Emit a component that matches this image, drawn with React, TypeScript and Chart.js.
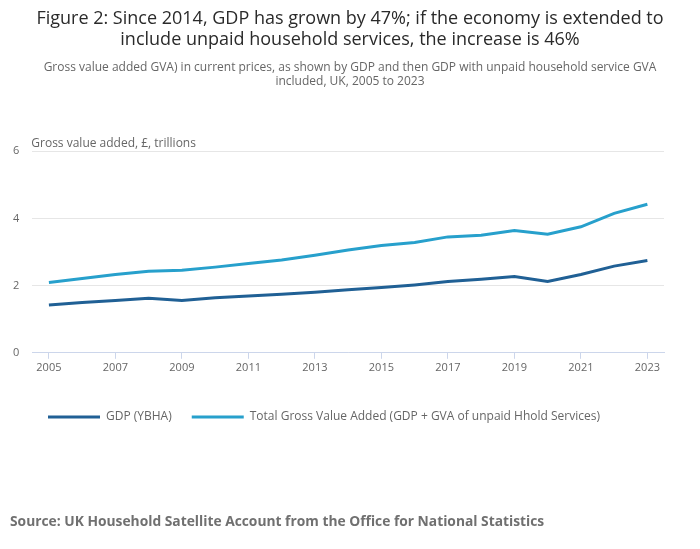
import { useEffect, useRef } from 'react';
import { Chart, registerables } from 'chart.js';

Chart.register(...registerables);

const YEARS = [
  '2005', '2006', '2007', '2008', '2009', '2010', '2011', '2012', '2013', '2014',
  '2015', '2016', '2017', '2018', '2019', '2020', '2021', '2022', '2023',
];
const GDP = [1.42, 1.5, 1.56, 1.62, 1.56, 1.64, 1.69, 1.74, 1.8, 1.88, 1.94, 2.02, 2.12, 2.19, 2.27, 2.12, 2.33, 2.58, 2.75];
const TOTAL_GVA = [2.09, 2.21, 2.33, 2.43, 2.46, 2.55, 2.66, 2.76, 2.9, 3.06, 3.19, 3.28, 3.45, 3.5, 3.64, 3.53, 3.75, 4.15, 4.42];
const Y_TICKS = [0, 2, 4, 6];

const TITLE = [
  'Figure 2: Since 2014, GDP has grown by 47%; if the economy is extended to',
  'include unpaid household services, the increase is 46%',
];
const SUBTITLE = [
  'Gross value added GVA) in current prices, as shown by GDP and then GDP with unpaid household service GVA',
  'included, UK, 2005 to 2023',
];
const Y_LABEL = 'Gross value added, £, trillions';
const SOURCE = 'Source: UK Household Satellite Account from the Office for National Statistics';

const FONT = "'Open Sans', sans-serif";

// extra text drawn straight on the canvas, plus a few position nudges
const extras = {
  id: 'extras',
  afterLayout(chart: any) {
    chart.boxes.forEach((b: any) => {
      if (b.position === 'top') {
        b.left = 0;
        b.right = chart.width;
      }
    });
    if (chart.legend) {
      chart.legend.left += 28;
      chart.legend.right += 28;
    }
  },
  afterDraw(chart: any) {
    const { ctx, chartArea } = chart;
    ctx.save();
    ctx.font = `12px ${FONT}`;
    ctx.fillStyle = '#666';
    ctx.textAlign = 'left';
    ctx.textBaseline = 'bottom';
    ctx.fillText(Y_LABEL, chartArea.left - 1, chartArea.top - 2);
    ctx.font = `bold 13.8px ${FONT}`;
    ctx.fillStyle = '#707070';
    ctx.textBaseline = 'middle';
    ctx.fillText(SOURCE, 10, 522);
    ctx.restore();
  },
};

export default function App() {
  const canvasRef = useRef<HTMLCanvasElement>(null);
  const chartRef = useRef<Chart | null>(null);

  useEffect(() => {
    if (!canvasRef.current) return;
    if (chartRef.current) chartRef.current.destroy();

    chartRef.current = new Chart(canvasRef.current, {
      type: 'line',
      data: {
        labels: YEARS,
        datasets: [
          {
            label: 'GDP (YBHA)',
            data: GDP,
            borderColor: '#206095',
            backgroundColor: '#206095',
            borderWidth: 3,
            pointRadius: 0,
            tension: 0,
          },
          {
            label: 'Total Gross Value Added (GDP + GVA of unpaid Hhold Services)',
            data: TOTAL_GVA,
            borderColor: '#27a0cc',
            backgroundColor: '#27a0cc',
            borderWidth: 3,
            pointRadius: 0,
            tension: 0,
          },
        ],
      },
      options: {
        responsive: true,
        maintainAspectRatio: false,
        animation: false,
        layout: { padding: { left: 0, right: 36, top: 4, bottom: 116 } },
        scales: {
          x: {
            type: 'category',
            offset: true,
            afterFit: (axis: any) => {
              axis.height += 15;
            },
            grid: {
              drawOnChartArea: false,
              drawTicks: true,
              tickLength: 6,
              color: '#ccd6eb',
            },
            border: { color: '#ccd6eb' },
            ticks: {
              autoSkip: false,
              maxRotation: 0,
              color: '#666',
              font: { family: FONT, size: 11 },
              padding: 2,
              callback: (_v: any, i: number) => (i % 2 === 0 ? YEARS[i] : null),
            },
          },
          y: {
            min: 0,
            max: 6,
            afterBuildTicks: (axis: any) => {
              axis.ticks = Y_TICKS.map((v) => ({ value: v }));
            },
            grid: { color: '#e6e6e6', drawTicks: false, tickLength: 0 },
            border: { display: false },
            ticks: {
              color: '#666',
              font: { family: FONT, size: 11 },
              padding: 13,
            },
          },
        },
        plugins: {
          title: {
            display: true,
            text: TITLE,
            color: '#2a2a2a',
            font: { family: FONT, size: 18, weight: 'normal', lineHeight: 1.15 },
            padding: { top: 5, bottom: 10 },
          },
          subtitle: {
            display: true,
            text: SUBTITLE,
            color: '#666',
            font: { family: FONT, size: 12, lineHeight: 1.2 },
            padding: { top: 0, bottom: 62 },
          },
          legend: {
            position: 'bottom',
            align: 'start',
            labels: {
              boxWidth: 52,
              boxHeight: 0,
              padding: 20,
              color: '#666',
              font: { family: FONT, size: 12 },
            },
          },
          tooltip: { enabled: false },
        },
      },
      plugins: [extras],
    });

    return () => chartRef.current?.destroy();
  }, []);

  return (
    <div style={{ position: 'absolute', left: 0, top: 0, width: 700, height: 549, background: '#fff' }}>
      <canvas ref={canvasRef} />
    </div>
  );
}
